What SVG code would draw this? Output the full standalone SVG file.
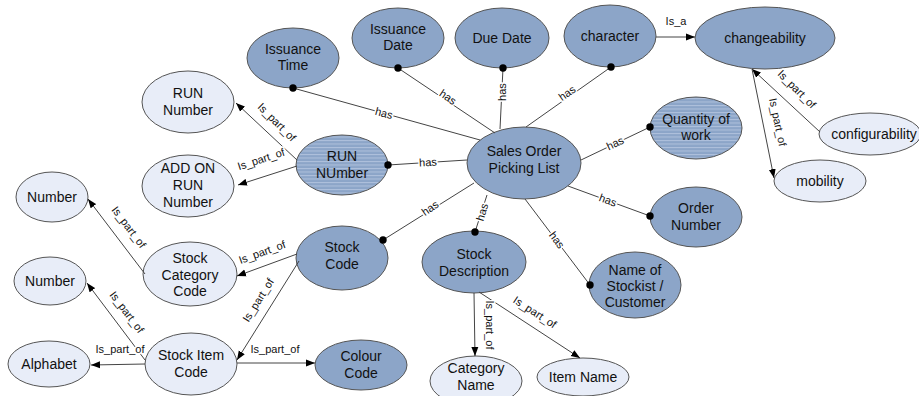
<svg xmlns="http://www.w3.org/2000/svg" width="919" height="396" viewBox="0 0 919 396">
<style>
.dark{fill:#8ca5c8;stroke:#555;stroke-width:1}
.light{fill:#e8edf8;stroke:#555;stroke-width:1}
.striped{fill:url(#stripes);stroke:#555;stroke-width:1}
.nt{font-family:"Liberation Sans",Arial,sans-serif;font-size:14px;fill:#111;text-anchor:middle}
.ln{stroke:#444;stroke-width:1;fill:none}
.has{marker-end:url(#dot)}
.arr{marker-end:url(#arrow)}
.lb{font-family:"Liberation Sans",Arial,sans-serif;font-size:11px;fill:#111;text-anchor:middle;dominant-baseline:central;stroke:#fff;stroke-width:3;paint-order:stroke;stroke-linejoin:round}
</style>
<defs>
<pattern id="stripes" patternUnits="userSpaceOnUse" width="6" height="3.5">
<rect width="6" height="3.5" fill="#8ca5c8"/>
<rect y="0" width="6" height="1" fill="#afc1dc"/>
</pattern>
<marker id="dot" markerUnits="userSpaceOnUse" markerWidth="10" markerHeight="10" refX="5" refY="5" viewBox="0 0 10 10">
<circle cx="5" cy="5" r="3.7" fill="#000"/>
</marker>
<marker id="arrow" markerUnits="userSpaceOnUse" markerWidth="9" markerHeight="8" refX="9" refY="4" orient="auto" viewBox="0 0 9 8">
<path d="M0,0.5 L9,4 L0,7.5 z" fill="#000"/>
</marker>
</defs>
<rect width="919" height="396" fill="#fff"/>

<g id="sopl"><ellipse class="dark" cx="524" cy="163" rx="57" ry="36"/><text class="nt" x="524" y="156">Sales Order</text><text class="nt" x="524" y="173">Picking List</text></g>
<g id="issuanceTime"><ellipse class="dark" cx="293" cy="58" rx="46" ry="30"/><text class="nt" x="293" y="54">Issuance</text><text class="nt" x="293" y="70">Time</text></g>
<g id="issuanceDate"><ellipse class="dark" cx="398" cy="38" rx="46" ry="30"/><text class="nt" x="398" y="34">Issuance</text><text class="nt" x="398" y="50">Date</text></g>
<g id="dueDate"><ellipse class="dark" cx="502" cy="38" rx="47" ry="30"/><text class="nt" x="502" y="43">Due Date</text></g>
<g id="character"><ellipse class="dark" cx="610" cy="36" rx="46" ry="31"/><text class="nt" x="610" y="41">character</text></g>
<g id="changeability"><ellipse class="dark" cx="765" cy="38" rx="70" ry="31"/><text class="nt" x="765" y="43">changeability</text></g>
<g id="configurability"><ellipse class="light" cx="870" cy="134" rx="51" ry="21"/><text class="nt" x="874" y="139">configurability</text></g>
<g id="mobility"><ellipse class="light" cx="820" cy="181" rx="46" ry="21"/><text class="nt" x="820" y="186">mobility</text></g>
<g id="quantityOfWork"><ellipse class="striped" cx="696" cy="128" rx="46" ry="31"/><text class="nt" x="696" y="124">Quantity of</text><text class="nt" x="696" y="140">work</text></g>
<g id="orderNumber"><ellipse class="dark" cx="696" cy="217" rx="46" ry="30"/><text class="nt" x="696" y="213">Order</text><text class="nt" x="696" y="230">Number</text></g>
<g id="stockist"><ellipse class="dark" cx="635" cy="285" rx="46" ry="33"/><text class="nt" x="635" y="275">Name of</text><text class="nt" x="635" y="291">Stockist /</text><text class="nt" x="635" y="307">Customer</text></g>
<g id="stockDescription"><ellipse class="dark" cx="474" cy="262" rx="52" ry="31"/><text class="nt" x="474" y="259">Stock</text><text class="nt" x="474" y="276">Description</text></g>
<g id="stockCode"><ellipse class="dark" cx="342" cy="258" rx="46" ry="32"/><text class="nt" x="342" y="252">Stock</text><text class="nt" x="342" y="269">Code</text></g>
<g id="runNUmber"><ellipse class="striped" cx="342" cy="165" rx="46" ry="30"/><text class="nt" x="342" y="161">RUN</text><text class="nt" x="342" y="178">NUmber</text></g>
<g id="runNumber"><ellipse class="light" cx="188" cy="102" rx="46" ry="31"/><text class="nt" x="188" y="98">RUN</text><text class="nt" x="188" y="115">Number</text></g>
<g id="addOnRunNumber"><ellipse class="light" cx="188" cy="186" rx="46" ry="31"/><text class="nt" x="188" y="173">ADD ON</text><text class="nt" x="188" y="190">RUN</text><text class="nt" x="188" y="207">Number</text></g>
<g id="number1"><ellipse class="light" cx="52" cy="197" rx="36" ry="25"/><text class="nt" x="52" y="202">Number</text></g>
<g id="stockCategoryCode"><ellipse class="light" cx="190" cy="274" rx="47" ry="32"/><text class="nt" x="190" y="263">Stock</text><text class="nt" x="190" y="280">Category</text><text class="nt" x="190" y="296">Code</text></g>
<g id="number2"><ellipse class="light" cx="50" cy="281" rx="36" ry="24"/><text class="nt" x="50" y="286">Number</text></g>
<g id="alphabet"><ellipse class="light" cx="49" cy="364" rx="41" ry="23"/><text class="nt" x="49" y="369">Alphabet</text></g>
<g id="stockItemCode"><ellipse class="light" cx="191" cy="364" rx="46" ry="31"/><text class="nt" x="191" y="360">Stock Item</text><text class="nt" x="191" y="377">Code</text></g>
<g id="colourCode"><ellipse class="dark" cx="361" cy="365" rx="46" ry="25"/><text class="nt" x="361" y="361">Colour</text><text class="nt" x="361" y="378">Code</text></g>
<g id="categoryName"><ellipse class="light" cx="476" cy="381" rx="46" ry="25"/><text class="nt" x="476" y="373">Category</text><text class="nt" x="476" y="390">Name</text></g>
<g id="itemName"><ellipse class="light" cx="583" cy="377" rx="46" ry="19"/><text class="nt" x="583" y="382">Item Name</text></g>

<g id="connectors">
<line class="ln has" x1="480" y1="140" x2="293" y2="88"/>
<line class="ln has" x1="495" y1="133" x2="398" y2="68"/>
<line class="ln has" x1="500" y1="129" x2="503" y2="68"/>
<line class="ln has" x1="526" y1="127" x2="611" y2="67"/>
<line class="ln has" x1="581" y1="160" x2="650" y2="127"/>
<line class="ln has" x1="568" y1="186" x2="650" y2="216"/>
<line class="ln has" x1="525" y1="199" x2="590" y2="285"/>
<line class="ln has" x1="487" y1="195" x2="475" y2="232"/>
<line class="ln has" x1="474" y1="183" x2="383" y2="240"/>
<line class="ln has" x1="467" y1="160" x2="388" y2="165"/>

<line class="ln arr" x1="297" y1="160" x2="236" y2="103"/>
<line class="ln arr" x1="297" y1="166" x2="238" y2="185"/>
<line class="ln arr" x1="297" y1="254" x2="237" y2="276"/>
<line class="ln arr" x1="145" y1="274" x2="88" y2="199"/>
<line class="ln arr" x1="299" y1="261" x2="237" y2="360"/>
<line class="ln arr" x1="145" y1="360" x2="87" y2="283"/>
<line class="ln arr" x1="145" y1="364" x2="91" y2="365"/>
<line class="ln arr" x1="237" y1="363" x2="315" y2="363"/>
<line class="ln arr" x1="474" y1="293" x2="475" y2="356"/>
<line class="ln arr" x1="479" y1="292" x2="580" y2="358"/>
<line class="ln arr" x1="820" y1="132" x2="752" y2="69"/>
<line class="ln arr" x1="752" y1="69" x2="774" y2="178"/>
<line class="ln arr" x1="656" y1="37" x2="695" y2="37"/>

<text class="lb" transform="translate(384,113) rotate(15)">has</text>
<text class="lb" transform="translate(448,97) rotate(34)">has</text>
<text class="lb" transform="translate(502,92) rotate(-90)">has</text>
<text class="lb" transform="translate(567,93) rotate(-35)">has</text>
<text class="lb" transform="translate(615,143) rotate(-25)">has</text>
<text class="lb" transform="translate(608,200) rotate(20)">has</text>
<text class="lb" transform="translate(557,240) rotate(53)">has</text>
<text class="lb" transform="translate(482,212) rotate(-73)">has</text>
<text class="lb" transform="translate(430,208) rotate(-35)">has</text>
<text class="lb" transform="translate(428,162) rotate(-3)">has</text>

<text class="lb" transform="translate(277,122) rotate(45)">Is_part_of</text>
<text class="lb" transform="translate(261,159) rotate(-18)">Is_part_of</text>
<text class="lb" transform="translate(262,252) rotate(-20)">Is_part_of</text>
<text class="lb" transform="translate(129,227) rotate(53)">Is_part_of</text>
<text class="lb" transform="translate(258,300) rotate(-58)">Is_part_of</text>
<text class="lb" transform="translate(127,312) rotate(53)">Is_part_of</text>
<text class="lb" transform="translate(120,349)">Is_part_of</text>
<text class="lb" transform="translate(275,349)">Is_part_of</text>
<text class="lb" transform="translate(490,325) rotate(90)">Is_part_of</text>
<text class="lb" transform="translate(535,312) rotate(33)">Is_part_of</text>
<text class="lb" transform="translate(797,89) rotate(45)">Is_part_of</text>
<text class="lb" transform="translate(778,122) rotate(78)">Is_part_of</text>
<text class="lb" transform="translate(676,21)">Is_a</text>
</g>
</svg>
